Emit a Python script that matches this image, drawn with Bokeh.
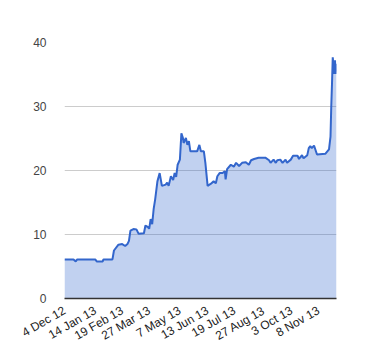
import pandas as pd
from bokeh.plotting import figure
from bokeh.models import Range1d, FixedTicker, ColumnDataSource
from bokeh.embed import file_html
from bokeh.resources import INLINE
import math

dates = ["2012-12-04", "2012-12-16", "2012-12-19", "2012-12-21", "2013-01-14", "2013-01-16",
         "2013-01-24", "2013-01-25", "2013-02-06", "2013-02-08", "2013-02-14", "2013-02-19",
         "2013-02-23", "2013-02-26", "2013-02-28", "2013-03-02", "2013-03-06", "2013-03-10",
         "2013-03-13", "2013-03-20", "2013-03-22", "2013-03-25", "2013-03-27", "2013-03-29",
         "2013-03-31", "2013-04-02", "2013-04-04", "2013-04-07", "2013-04-10", "2013-04-13",
         "2013-04-18", "2013-04-20", "2013-04-22", "2013-04-25", "2013-04-28", "2013-04-30",
         "2013-05-02", "2013-05-04", "2013-05-07", "2013-05-09", "2013-05-11", "2013-05-12",
         "2013-05-15", "2013-05-17", "2013-05-19", "2013-05-21", "2013-05-30", "2013-06-02",
         "2013-06-04", "2013-06-08", "2013-06-10", "2013-06-13", "2013-06-17", "2013-06-21",
         "2013-06-24", "2013-06-26", "2013-06-29", "2013-07-03", "2013-07-06", "2013-07-07",
         "2013-07-09", "2013-07-14", "2013-07-18", "2013-07-21", "2013-07-25", "2013-07-29",
         "2013-08-03", "2013-08-07", "2013-08-10", "2013-08-14", "2013-08-20", "2013-08-29",
         "2013-09-03", "2013-09-05", "2013-09-09", "2013-09-12", "2013-09-14", "2013-09-18",
         "2013-09-21", "2013-09-25", "2013-09-27", "2013-10-02", "2013-10-05", "2013-10-11",
         "2013-10-13", "2013-10-17", "2013-10-19", "2013-10-24", "2013-10-26", "2013-10-28",
         "2013-10-30", "2013-11-02", "2013-11-06", "2013-11-17", "2013-11-22", "2013-11-24",
         "2013-11-25", "2013-11-26", "2013-11-27", "2013-11-29", "2013-11-30", "2013-12-01",
         "2013-12-02"]
values = [6.1, 6.1, 5.8, 6.1, 6.1, 5.8,
          5.8, 6.1, 6.1, 7.5, 8.4, 8.5,
          8.2, 8.5, 9.0, 10.6, 10.85, 10.8,
          10.1, 10.2, 11.4, 11.2, 10.9, 12.4,
          11.6, 14.0, 15.5, 18.3, 19.6, 17.6,
          17.8, 18.1, 17.6, 19.1, 18.5, 19.6,
          19.0, 20.9, 21.7, 25.8, 25.1, 24.3,
          25.1, 24.0, 24.6, 23.0, 23.0, 24.0,
          23.0, 23.0, 21.2, 17.6, 17.9, 18.3,
          18.0, 19.1, 19.6, 19.6, 19.9, 18.6,
          20.2, 20.9, 20.6, 21.2, 20.7, 21.2,
          21.3, 20.9, 21.6, 21.8, 22.0, 22.0,
          21.6, 21.2, 21.7, 21.2, 21.6, 21.7,
          21.2, 21.7, 21.2, 21.7, 22.3, 22.3,
          21.8, 22.4, 21.9, 22.4, 23.5, 23.8,
          23.5, 23.9, 22.5, 22.6, 23.3, 25.3,
          30.0, 33.6, 37.7, 35.1, 37.2, 35.1,
          36.7]

tick_dates = ["2012-12-04", "2013-01-14", "2013-02-19", "2013-03-27", "2013-05-07",
              "2013-06-13", "2013-07-19", "2013-08-27", "2013-10-03", "2013-11-08"]
tick_labels = ["4 Dec 12", "14 Jan 13", "19 Feb 13", "27 Mar 13", "7 May 13",
               "13 Jun 13", "19 Jul 13", "27 Aug 13", "3 Oct 13", "8 Nov 13"]
y_ticks = [0, 10, 20, 30, 40]

x = pd.to_datetime(dates)
src = ColumnDataSource(dict(x=x, y=values, zero=[0] * len(values)))

def ms(d):
    return pd.Timestamp(d).value / 1e6

p = figure(width=372, height=351, x_axis_type="datetime", output_backend="svg",
           toolbar_location=None, min_border_left=64, min_border_right=36,
           min_border_top=42, min_border_bottom=48)
p.x_range = Range1d(ms(dates[0]), ms(dates[-1]))
p.y_range = Range1d(0, 40)
p.outline_line_color = None
p.background_fill_color = "white"

p.varea(x="x", y1="zero", y2="y", source=src, fill_color="#3366cc", fill_alpha=0.3)
p.line(x="x", y="y", source=src, line_color="#3366cc", line_width=2)

tick_ms = [ms(d) for d in tick_dates]
p.xaxis.ticker = FixedTicker(ticks=tick_ms)
p.xaxis.major_label_overrides = {t: l for t, l in zip(tick_ms, tick_labels)}
p.xaxis.major_label_orientation = math.pi / 6
p.xaxis.axis_line_color = "#333333"
p.xaxis.axis_line_width = 1.5
p.xaxis.major_tick_line_color = None
p.xaxis.minor_tick_line_color = None
p.xaxis.major_label_text_font = "Liberation Sans"
p.xaxis.major_label_text_font_size = "12px"
p.xaxis.major_label_text_color = "#222222"
p.xaxis.major_label_standoff = 5

p.yaxis.ticker = FixedTicker(ticks=y_ticks)
p.yaxis.axis_line_color = None
p.yaxis.major_tick_line_color = None
p.yaxis.minor_tick_line_color = None
p.yaxis.major_label_text_font = "Liberation Sans"
p.yaxis.major_label_text_font_size = "12px"
p.yaxis.major_label_text_color = "#444444"
p.yaxis.major_label_standoff = 12

p.xgrid.grid_line_color = None
p.ygrid.grid_line_color = "#cccccc"
p.ygrid.ticker = FixedTicker(ticks=y_ticks)

open("out.html", "w").write(file_html(p, INLINE))
